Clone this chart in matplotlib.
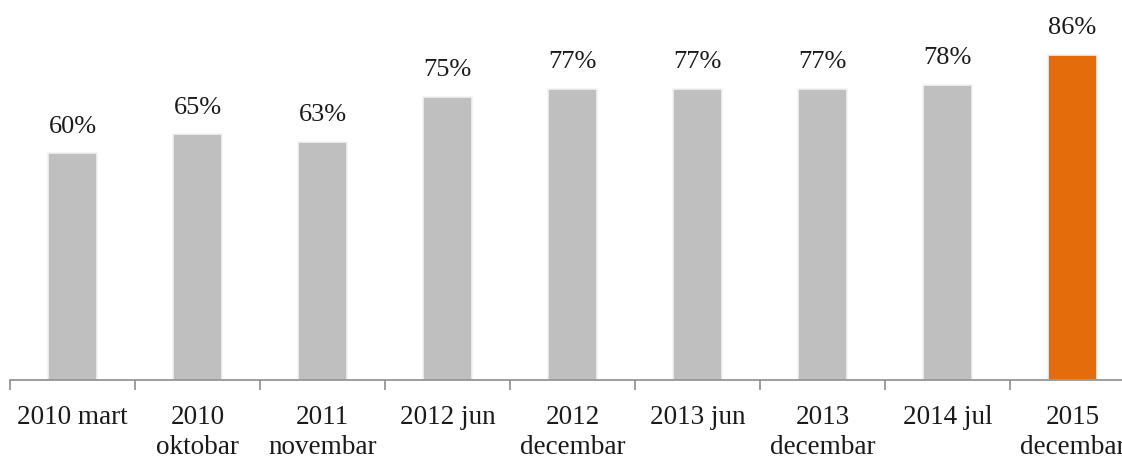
import matplotlib.pyplot as plt
import numpy as np

# Podaci
categories = ['2010 mart', '2010\noktobar', '2011\nnovembar', '2012 jun',
              '2012\ndecembar', '2013 jun', '2013\ndecembar', '2014 jul',
              '2015\ndecembar']
values = [60, 65, 63, 75, 77, 77, 77, 78, 86]
value_labels = ['60%', '65%', '63%', '75%', '77%', '77%', '77%', '78%', '86%']

gray = '#BFBFBF'
orange = '#E46C0A'
colors = [gray] * (len(values) - 1) + [orange]

plt.rcParams['font.family'] = ['Liberation Serif', 'DejaVu Serif']

fig = plt.figure(figsize=(11.22, 4.6), dpi=100)
ax = fig.add_axes([10 / 1122, 79 / 460, 1125 / 1122, 378 / 460])

x = np.arange(len(values))
ax.bar(x, values, width=0.39, color=colors, edgecolor='#F2F2F2', linewidth=1.2)

for xi, v, lab in zip(x, values, value_labels):
    ax.annotate(lab, (xi, v), xytext=(0, 12), textcoords='offset points',
                ha='center', va='bottom', fontsize=19, color='#1A1A1A')

ax.set_xlim(-0.5, len(values) - 0.5)
ax.set_ylim(0, 100)

# Glavni tikovi (oznake) na sredini, sporedni na granicama
ax.set_xticks(x)
ax.set_xticklabels(categories, fontsize=19.5, linespacing=1.3, color='#1A1A1A')
ax.tick_params(axis='x', which='major', length=0, pad=17)
ax.set_xticks(np.arange(-0.5, len(values), 1.0), minor=True)
ax.tick_params(axis='x', which='minor', length=7, width=1.2, color='#8C8C8C',
               direction='out')

ax.set_yticks([])
for side in ['top', 'right', 'left']:
    ax.spines[side].set_visible(False)
ax.spines['bottom'].set_color('#8C8C8C')
ax.spines['bottom'].set_linewidth(1.2)

fig.savefig('out.png', dpi=100)
